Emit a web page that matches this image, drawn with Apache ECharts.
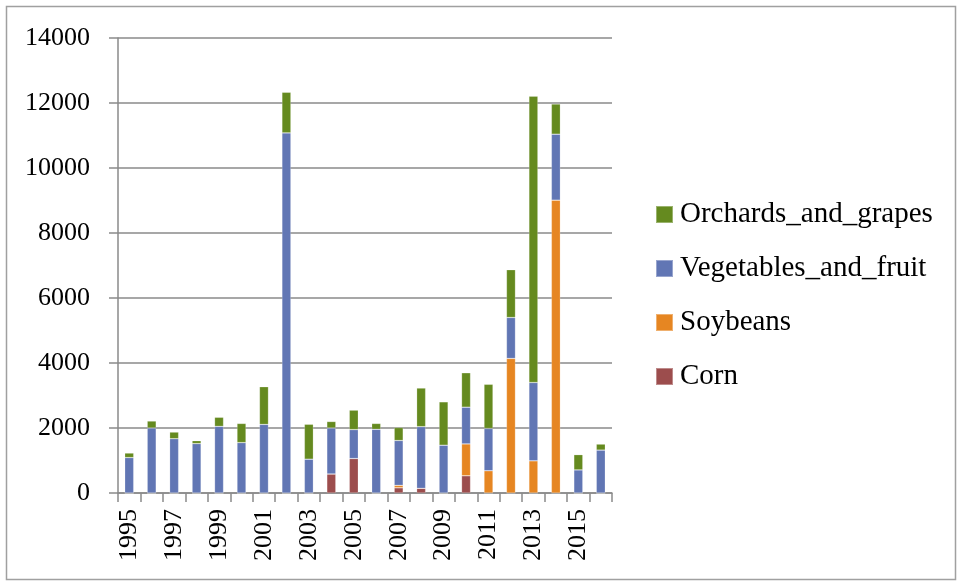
<!DOCTYPE html>
<html>
<head>
<meta charset="utf-8">
<script src="https://cdn.jsdelivr.net/npm/echarts@6/dist/echarts.min.js"></script>
<style>html,body{margin:0;padding:0;background:#fff;}#c{width:957px;height:582px;}</style>
</head>
<body>
<div id="c"></div>
<script>
var years = ['1995','1996','1997','1998','1999','2000','2001','2002','2003','2004','2005','2006','2007','2008','2009','2010','2011','2012','2013','2014','2015','2016'];
var corn = [0,0,0,0,0,0,0,0,0,585,1060,0,160,145,0,530,0,0,0,0,0,0];
var soybeans = [0,0,0,0,0,0,0,0,0,0,0,0,75,0,0,980,685,4140,990,9010,0,0];
var vegetables = [1090,2000,1670,1520,2050,1550,2110,11080,1040,1415,890,1960,1380,1895,1470,1130,1300,1260,2410,2030,710,1320];
var orchards = [140,215,205,90,280,590,1160,1250,1075,200,600,180,400,1190,1335,1060,1360,1470,8810,930,470,185];
var yTicks = [0,2000,4000,6000,8000,10000,12000,14000];

var font = 'Liberation Serif';
var gridColor = '#8a8a8a';
var chart = echarts.init(document.getElementById('c'), null, {renderer:'canvas'});
function mk(name, data, color){
  return {name:name, type:'bar', stack:'s', data:data, barWidth:9,
    itemStyle:{color:color, borderColor:'rgba(255,255,255,0.35)', borderWidth:0.6}};
}
chart.setOption({
  animation:false,
  backgroundColor:'#fff',
  graphic:[{type:'rect', shape:{x:6.5,y:6.5,width:949,height:573}, style:{fill:null, stroke:'#a0a0a0', lineWidth:1.5}, silent:true}],
  grid:{left:118, right:345, top:38, bottom:89, containLabel:false},
  legend:{orient:'vertical', left:655, top:200, padding:0, itemWidth:17, itemHeight:17, itemGap:25,
    icon:'rect',
    data:['Orchards_and_grapes','Vegetables_and_fruit','Soybeans','Corn'],
    textStyle:{fontFamily:font, fontSize:29, lineHeight:28, color:'#000', padding:[0,0,0,2]}},
  xAxis:{type:'category', data:years,
    axisLine:{lineStyle:{color:gridColor, width:1.5}},
    axisTick:{show:true, alignWithLabel:false, interval:0, length:9, lineStyle:{color:gridColor, width:1.5}},
    axisLabel:{interval:1, rotate:90, fontFamily:font, fontSize:26, color:'#000', margin:16}},
  yAxis:{type:'value', min:yTicks[0], max:yTicks[yTicks.length-1], interval:2000,
    axisLine:{show:true, lineStyle:{color:gridColor, width:1.5}},
    axisTick:{show:true, length:9, lineStyle:{color:gridColor, width:1.5}},
    splitLine:{lineStyle:{color:gridColor, width:1.5}},
    axisLabel:{fontFamily:font, fontSize:26, color:'#000', margin:28, formatter:function(v){return String(v);}}},
  series:[
    mk('Corn', corn, '#9c4d4d'),
    mk('Soybeans', soybeans, '#e68622'),
    mk('Vegetables_and_fruit', vegetables, '#6176b4'),
    mk('Orchards_and_grapes', orchards, '#658a1f')
  ]
});
</script>
</body>
</html>
